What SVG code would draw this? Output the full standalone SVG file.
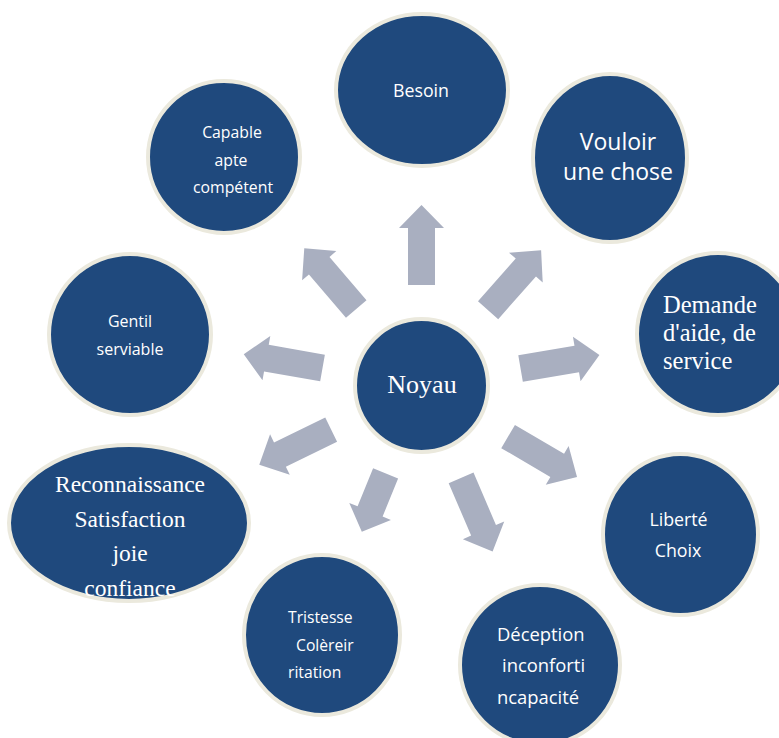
<svg xmlns="http://www.w3.org/2000/svg" xmlns:xlink="http://www.w3.org/1999/xlink" width="779" height="738" viewBox="0 0 779 738">
  <style>
    .node { fill: #1f497d; stroke: #ebe9dd; stroke-width: 4; }
    .arrow { fill: #a9afc0; }
    .sans { font-family: "Open Sans", "Noto Sans", sans-serif; fill: #ffffff; }
    .serif { font-family: "Liberation Serif", "Times New Roman", serif; fill: #ffffff; }
    .mid { text-anchor: middle; }
  </style>
  <defs>
    <!-- block arrow pointing along +x, measured from the hub centre -->
    <path id="arrow-long" d="M100.5,-13.5 H157.5 V-22.5 L180.5,0 L157.5,22.5 V13.5 H100.5 Z"/>
    <path id="arrow-short" d="M95,-13.5 H136 V-22.5 L158,0 L136,22.5 V13.5 H95 Z"/>
  </defs>
  <rect width="779" height="738" fill="#ffffff"/>

  <!-- connectors radiating from the hub -->
  <g id="connectors" class="arrow">
    <use xlink:href="#arrow-long" transform="translate(421.5 385.5) rotate(-90)"/>
    <use xlink:href="#arrow-long" transform="translate(421.5 385.5) rotate(-48.5)"/>
    <use xlink:href="#arrow-long" transform="translate(421.5 385.5) rotate(-9.7)"/>
    <use xlink:href="#arrow-long" transform="translate(421.5 385.5) rotate(30.5)"/>
    <use xlink:href="#arrow-long" transform="translate(421.5 385.5) rotate(66.8)"/>
    <use xlink:href="#arrow-short" transform="translate(421.5 385.5) rotate(112.2)"/>
    <use xlink:href="#arrow-long" transform="translate(421.5 385.5) rotate(154)"/>
    <use xlink:href="#arrow-long" transform="translate(421.5 385.5) rotate(190)"/>
    <use xlink:href="#arrow-long" transform="translate(421.5 385.5) rotate(-130.5)"/>
  </g>

  <g id="noyau">
    <circle class="node" cx="421.5" cy="385.5" r="66.5"/>
    <text class="serif mid" x="422" y="393" font-size="26">Noyau</text>
  </g>

  <g id="besoin">
    <ellipse class="node" cx="422" cy="90" rx="86" ry="76"/>
    <text class="sans mid" x="421" y="97" font-size="17.8">Besoin</text>
  </g>

  <g id="vouloir">
    <ellipse class="node" cx="610" cy="158" rx="77" ry="84"/>
    <text class="sans mid" x="618" y="150" font-size="23">Vouloir</text>
    <text class="sans mid" x="618" y="180" font-size="23">une chose</text>
  </g>

  <g id="demande">
    <circle class="node" cx="718" cy="334" r="81"/>
    <text class="serif" x="663" y="313" font-size="24.5">Demande</text>
    <text class="serif" x="663" y="341" font-size="24.5">d'aide, de</text>
    <text class="serif" x="663" y="369" font-size="24.5">service</text>
  </g>

  <g id="liberte">
    <ellipse class="node" cx="680.5" cy="534.5" rx="77.5" ry="80.5"/>
    <text class="sans mid" x="678.5" y="526" font-size="17.8">Liberté</text>
    <text class="sans mid" x="678" y="557" font-size="17.8">Choix</text>
  </g>

  <g id="deception">
    <circle class="node" cx="540" cy="665" r="80"/>
    <text class="sans" x="497" y="640.5" font-size="18.4">Déception</text>
    <text class="sans" x="502" y="672.3" font-size="18.4">inconforti</text>
    <text class="sans" x="497" y="704" font-size="18.4">ncapacité</text>
  </g>

  <g id="tristesse">
    <ellipse class="node" cx="322" cy="635" rx="78" ry="80"/>
    <text class="sans" x="288" y="622.7" font-size="15.7">Tristesse</text>
    <text class="sans" x="296" y="651" font-size="15.7">Colèreir</text>
    <text class="sans" x="288" y="677.7" font-size="15.7">ritation</text>
  </g>

  <g id="reconnaissance">
    <ellipse class="node" cx="129" cy="523" rx="120" ry="78"/>
    <text class="serif mid" x="130" y="492" font-size="23.5">Reconnaissance</text>
    <text class="serif mid" x="130" y="527" font-size="23.5">Satisfaction</text>
    <text class="serif mid" x="130" y="561" font-size="23.5">joie</text>
    <text class="serif mid" x="130" y="596" font-size="23.5">confiance</text>
  </g>

  <g id="gentil">
    <ellipse class="node" cx="130" cy="334.5" rx="81" ry="80.5"/>
    <text class="sans mid" x="130" y="327" font-size="16">Gentil</text>
    <text class="sans mid" x="130" y="355" font-size="16">serviable</text>
  </g>

  <g id="capable">
    <circle class="node" cx="224" cy="157" r="76"/>
    <text class="sans mid" x="232" y="138" font-size="15.8">Capable</text>
    <text class="sans mid" x="231" y="165.5" font-size="15.8">apte</text>
    <text class="sans mid" x="233" y="193" font-size="15.8">compétent</text>
  </g>
</svg>
